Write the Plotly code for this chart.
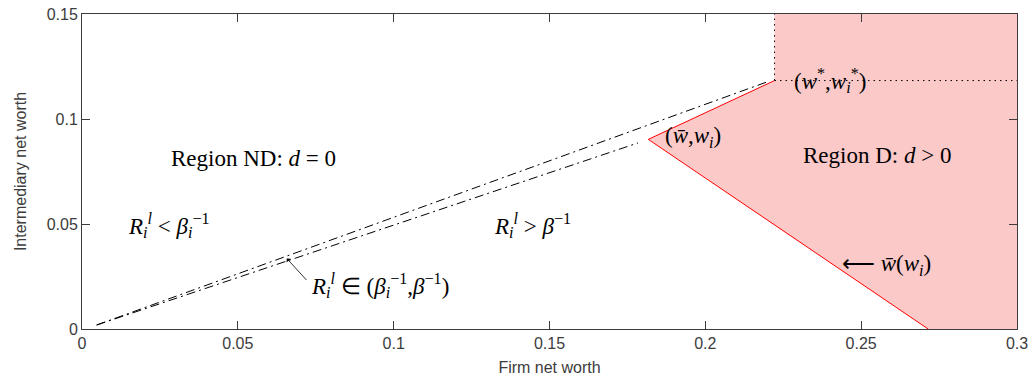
import plotly.graph_objects as go

# Key points of the region boundaries (firm net worth, intermediary net worth)
w_star = [0.2222]          # threshold firm net worth w*
wi_star = [0.1183]         # threshold intermediary net worth w_i*
w_low = [0.1817]           # kink of the dividend boundary
wi_low = [0.0903]
w_bar_zero = [0.2715]      # boundary crossing at w_i = 0

# Dash-dot separators between the R_i^l regions
sep_upper_x = [0.0047, 0.2197]
sep_upper_y = [0.0019, 0.1176]
sep_lower_x = [0.0047, 0.1784]
sep_lower_y = [0.0019, 0.0886]

# Axes
x_range = [0, 0.3]
y_range = [0, 0.15]
x_ticks = [0, 0.05, 0.1, 0.15, 0.2, 0.25, 0.3]
x_tick_text = ["0", "0.05", "0.1", "0.15", "0.2", "0.25", "0.3"]
y_ticks = [0, 0.05, 0.1, 0.15]
y_tick_text = ["0", "0.05", "0.1", "0.15"]

# Arrow pointing at the band between the two separators
band_arrow = [0.0657, 0.0336]

PINK = "rgb(252,201,201)"
RED = "rgb(255,0,0)"
SERIF = "Liberation Serif"
SANS = "Liberation Sans"
AXIS_GREY = "#3c3c3c"

fig = go.Figure()

# Region D (d > 0), shaded
fig.add_trace(go.Scatter(
    x=[w_star[0], w_star[0], w_low[0], w_bar_zero[0], x_range[1], x_range[1], w_star[0]],
    y=[y_range[1], wi_star[0], wi_low[0], 0, 0, y_range[1], y_range[1]],
    fill="toself", fillcolor=PINK, mode="none", hoverinfo="skip",
))

# Dash-dot separators
for xs, ys in [(sep_upper_x, sep_upper_y), (sep_lower_x, sep_lower_y)]:
    fig.add_trace(go.Scatter(
        x=xs, y=ys, mode="lines",
        line=dict(color="black", width=1, dash="9px,4px,2px,4px"),
        hoverinfo="skip",
    ))

# Red boundary of the dividend region
fig.add_trace(go.Scatter(
    x=[w_star[0], w_low[0], w_bar_zero[0]],
    y=[wi_star[0], wi_low[0], 0],
    mode="lines", line=dict(color=RED, width=1), hoverinfo="skip",
))

# Dotted threshold lines
fig.add_trace(go.Scatter(
    x=[w_star[0], w_star[0], None, w_star[0], x_range[1]],
    y=[wi_star[0], y_range[1], None, wi_star[0], wi_star[0]],
    mode="lines", line=dict(color="black", width=1, dash="1.5px,4px"),
    hoverinfo="skip",
))

math_font = dict(family=SERIF, size=23, color="black")
labels = [
    (0.0549, 0.0813, "center", "Region ND: <i>d</i> = 0"),
    (0.0279, 0.0494, "center", "<i>R</i><sub><i>i</i></sub><sup><i>l</i></sup> &lt; <i>β</i><sub><i>i</i></sub><sup>−1</sup>"),
    (0.1444, 0.0494, "center", "<i>R</i><sub><i>i</i></sub><sup><i>l</i></sup> &gt; <i>β</i><sup>−1</sup>"),
    (0.0728, 0.0209, "left", "<i>R</i><sub><i>i</i></sub><sup><i>l</i></sup> ∈ (<i>β</i><sub><i>i</i></sub><sup>−1</sup>,<i>β</i><sup>−1</sup>)"),
    (0.1864, 0.0913, "left", "(<i>w̄</i>,<i>w</i><sub><i>i</i></sub>)"),
    (0.2278, 0.1184, "left", "(<i>w</i><sup>*</sup>,<i>w</i><sub><i>i</i></sub><sup>*</sup>)"),
    (0.2551, 0.0827, "center", "Region D: <i>d</i> &gt; 0"),
    (0.2432, 0.0304, "left", "⟵ <i>w̄</i>(<i>w</i><sub><i>i</i></sub>)"),
]
for x, y, anchor, text in labels:
    fig.add_annotation(x=x, y=y, text=text, showarrow=False, xanchor=anchor,
                       yanchor="middle", font=math_font)

# Pointer into the narrow band
fig.add_annotation(x=band_arrow[0], y=band_arrow[1], text="", showarrow=True,
                   ax=21, ay=23, arrowhead=1, arrowsize=1.2, arrowwidth=0.8,
                   arrowcolor="black")

axis_common = dict(
    showgrid=False, zeroline=False, showline=True, mirror="ticks",
    linecolor=AXIS_GREY, linewidth=1, ticks="inside", ticklen=8,
    tickcolor=AXIS_GREY, tickfont=dict(family=SANS, size=16, color=AXIS_GREY),
    automargin=False,
)
fig.update_xaxes(range=x_range, tickvals=x_ticks, ticktext=x_tick_text,
                 title=dict(text="Firm net worth", font=dict(family=SANS, size=16, color=AXIS_GREY),
                            standoff=10), **axis_common)
fig.update_yaxes(range=y_range, tickvals=y_ticks, ticktext=y_tick_text,
                 title=dict(text="Intermediary net worth", font=dict(family=SANS, size=16, color=AXIS_GREY),
                            standoff=16), **axis_common)

fig.update_layout(
    width=1032, height=385, showlegend=False,
    margin=dict(l=82, r=15, t=14, b=56),
    paper_bgcolor="white", plot_bgcolor="white",
)

fig.write_html("out.html")
